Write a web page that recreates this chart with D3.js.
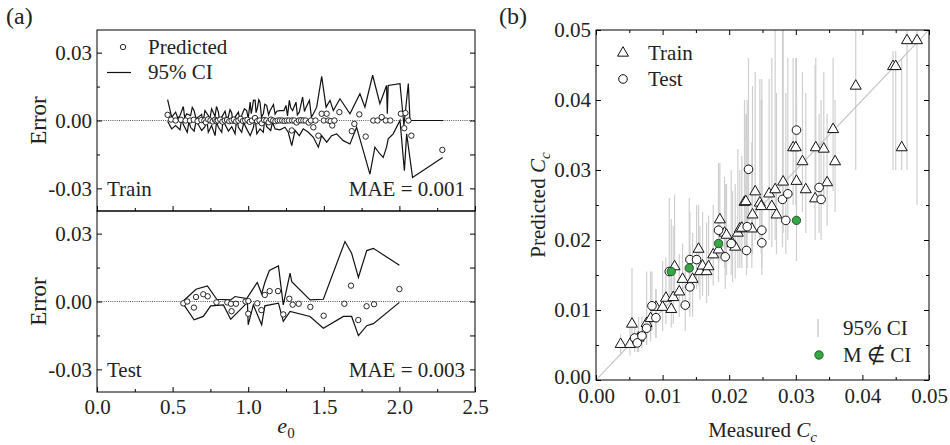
<!DOCTYPE html>
<html>
<head>
<meta charset="utf-8">
<script src="https://cdn.jsdelivr.net/npm/d3@7"></script>
<style>
  body { margin: 0; background: #fff; }
  svg text { font-family: "Liberation Serif", "Times New Roman", serif; fill: #222; }
</style>
</head>
<body>
<div id="chart"></div>
<script>
// ---- data ----
// (a) train: [e0, error]
const trainErr = [[0.467,0.0025],[0.49,0.0004],[0.52,0],[0.555,0.0003],[0.586,0],[0.615,0],[0.64,0.0003],[0.665,-0.0003],
  [0.69,0.0002],[0.71,0],[0.72,-0.0008],[0.735,0.0005],[0.75,0],[0.765,-0.0004],[0.78,0.0003],[0.79,-0.0002],[0.80,0],
  [0.815,0.0004],[0.83,-0.0005],[0.845,0],[0.86,0.0002],[0.875,-0.0003],[0.89,0],[0.905,0.0004],[0.92,-0.0004],[0.935,0],
  [0.95,0.0007],[0.965,-0.0002],[0.98,0],[0.995,0.0003],[1.01,-0.0006],[1.025,0],[1.045,0.0011],[1.06,-0.0003],[1.075,0],
  [1.09,-0.0012],[1.105,0.0002],[1.12,0],[1.135,-0.0008],[1.15,0.0004],[1.165,0],[1.18,-0.0003],[1.195,0],[1.21,0],[1.225,0],
  [1.24,-0.0002],[1.255,0],[1.27,0],[1.288,-0.0044],[1.29,0],[1.305,0],[1.32,-0.0009],[1.335,0],[1.35,0.0001],[1.365,0],
  [1.38,0],[1.40,-0.0009],[1.415,0],[1.431,-0.003],[1.445,0],[1.464,-0.0067],[1.486,0.003],[1.50,0],[1.519,0.003],[1.53,0],
  [1.545,-0.0003],[1.556,-0.0022],[1.57,0],[1.603,0.0037],[1.685,-0.0047],[1.702,-0.0015],[1.735,0.0027],[1.777,-0.0071],
  [1.827,0],[1.855,0],[1.883,0.0015],[1.91,0],[1.94,0],[2.01,0.003],[2.032,-0.0034],[2.04,0.0033],[2.06,0],[2.079,-0.0067],
  [2.284,-0.013]];
const trainCiUpper = [[0.467,0.0092],[0.494,0.0015],[0.52,0.0037],[0.535,0.001],[0.549,0.0022],[0.571,0.0062],[0.58,0.0012],
  [0.593,0.003],[0.619,0.0022],[0.63,0.0058],[0.642,0.0044],[0.655,0.0008],[0.67,0.0015],[0.692,0.0027],[0.70,-0.0012],
  [0.714,0.0044],[0.736,0.0022],[0.745,0.0002],[0.758,0.0052],[0.781,0.0018],[0.79,0.0062],[0.803,0.0037],[0.812,-0.0008],
  [0.825,0.0015],[0.847,0.0041],[0.858,0.0006],[0.869,0.0018],[0.88,0.0048],[0.891,0.0033],[0.90,-0.0015],[0.913,0.0015],
  [0.935,0.0037],[0.945,0.0004],[0.957,0.0022],[0.975,0.0052],[0.99,0.0044],[1.0,0.001],[1.013,0.0081],[1.02,0.003],
  [1.028,0.0059],[1.035,0.009],[1.046,0.0089],[1.052,0.0035],[1.061,0.0056],[1.07,0.0092],[1.078,0.0081],[1.088,0.0015],
  [1.1,0.003],[1.11,0.0072],[1.122,0.0067],[1.135,0.0025],[1.145,0.0044],[1.167,0.0071],[1.178,0.0028],[1.189,0.0041],
  [1.21,0.0044],[1.237,0.0044],[1.25,0.0067],[1.26,0.002],[1.272,0.0089],[1.282,0.0055],[1.294,0.0044],[1.316,0.0081],
  [1.325,0.0025],[1.338,0.0037],[1.36,0.0104],[1.372,0.004],[1.383,0.0059],[1.405,0.0089],[1.418,0.0015],[1.431,0.003],
  [1.453,0.0059],[1.486,0.0195],[1.515,0.0059],[1.541,0.0089],[1.563,0.0044],[1.607,0.0096],[1.673,0.003],[1.739,0.0118],
  [1.772,0.0059],[1.823,0.02],[1.871,0.0074],[1.915,0.0155],[1.92,0.003],[1.926,0.0155],[2.004,0.0163],[2.03,-0.0022],
  [2.059,0.0163],[2.07,0],[2.29,0]];
const trainCiLower = [[0.467,-0.0003],[0.494,-0.0037],[0.52,-0.0022],[0.549,-0.0041],[0.56,0.0008],[0.571,-0.0018],
  [0.597,-0.0052],[0.608,-0.0005],[0.619,-0.003],[0.642,-0.0047],[0.655,-0.0005],[0.67,-0.0018],[0.692,-0.0044],
  [0.714,-0.0027],[0.725,0.0012],[0.736,-0.0052],[0.758,-0.0022],[0.781,-0.0067],[0.79,-0.0008],[0.803,-0.003],
  [0.825,-0.0052],[0.835,0.0008],[0.847,-0.0018],[0.869,-0.0047],[0.891,-0.0027],[0.913,-0.0059],[0.925,0.0012],
  [0.935,-0.003],[0.957,-0.0052],[0.97,-0.001],[0.99,-0.0037],[1.013,-0.0067],[1.035,-0.003],[1.045,0.0015],
  [1.057,-0.0059],[1.078,-0.0037],[1.1,-0.0052],[1.11,0.001],[1.122,-0.0027],[1.149,-0.0044],[1.16,-0.0008],
  [1.178,-0.0037],[1.21,-0.0041],[1.243,-0.003],[1.265,-0.0052],[1.288,-0.0111],[1.31,-0.0044],[1.338,-0.0067],
  [1.364,-0.0037],[1.398,-0.0052],[1.431,-0.0074],[1.464,-0.0118],[1.486,-0.0067],[1.519,-0.0096],[1.552,-0.0067],
  [1.585,-0.0059],[1.629,-0.0089],[1.673,-0.0104],[1.717,-0.003],[1.761,-0.0133],[1.805,-0.0237],[1.838,-0.0118],
  [1.871,-0.0148],[1.893,-0.0163],[1.915,-0.0118],[1.926,-0.0081],[1.959,-0.0059],[2.004,0],[2.033,-0.0222],
  [2.048,-0.0059],[2.087,-0.0252],[2.286,-0.0163]];

// (a) test: [e0, error]
const testErr = [[0.571,-0.0008],[0.597,0],[0.641,-0.0027],[0.655,0.002],[0.703,0.0032],[0.732,0.0023],[0.79,-0.0004],
  [0.862,-0.0004],[0.886,-0.001],[0.89,-0.0043],[0.919,-0.001],[0.983,0],[1.001,0.0002],[1.0,-0.0054],[1.06,-0.0008],
  [1.087,-0.0038],[1.11,0.0029],[1.142,0.0046],[1.197,0.0046],[1.232,-0.0057],[1.272,0.0012],[1.294,-0.0014],
  [1.334,-0.001],[1.411,-0.0024],[1.499,-0.0063],[1.636,-0.001],[1.68,0.007],[1.728,-0.0082],[1.783,-0.0021],
  [1.832,-0.0012],[2.0,0.0055]];
const testCiUpper = [[0.567,0],[0.655,0.0054],[0.73,0.0069],[0.792,0.001],[0.884,0.0007],[0.913,0.0022],[0.99,0.0013],
  [1.06,0.0084],[1.089,0.0034],[1.11,0.0084],[1.14,0.0137],[1.20,0.0157],[1.232,-0.0015],[1.277,0.0125],[1.288,0.0088],
  [1.409,0.0007],[1.497,0.001],[1.64,0.0265],[1.684,0.0213],[1.729,0.0107],[1.784,0.0225],[1.828,0.0235],[2.0,0.016]];
const testCiLower = [[0.567,-0.0007],[0.642,-0.0081],[0.703,-0.0066],[0.752,-0.0019],[0.836,-0.0015],[0.884,-0.0078],
  [0.913,-0.0059],[0.995,-0.0004],[1.0,-0.0103],[1.034,-0.0015],[1.089,-0.0103],[1.11,-0.0019],[1.20,-0.0007],
  [1.232,-0.0088],[1.277,-0.0044],[1.409,-0.0066],[1.497,-0.0118],[1.63,-0.0066],[1.684,-0.0066],[1.729,-0.0151],
  [1.784,-0.0107],[1.828,-0.0098],[2.0,-0.0004]];

// (b) [measured, predicted, CI low, CI high]
const ccTrain = [[0.0037,0.0051,0.0035,0.0065],[0.0051,0.0051,0.0035,0.0075],[0.0054,0.0080,0.0045,0.016],
  [0.0064,0.0060,0.004,0.009],[0.0076,0.0081,0.005,0.0155],[0.0082,0.0088,0.0055,0.0155],[0.0090,0.0104,0.006,0.013],
  [0.0100,0.0104,0.007,0.017],[0.0105,0.0117,0.008,0.0175],[0.0113,0.0101,0.0075,0.017],[0.0116,0.0118,0.008,0.022],
  [0.0118,0.0162,0.012,0.0265],[0.0125,0.0126,0.009,0.018],[0.0130,0.0144,0.0105,0.0195],[0.0145,0.0144,0.009,0.021],
  [0.0154,0.0187,0.0135,0.025],[0.0156,0.0155,0.0115,0.022],[0.0160,0.0163,0.012,0.024],[0.0166,0.0155,0.011,0.0225],
  [0.0169,0.0162,0.012,0.0235],[0.0176,0.0179,0.0135,0.025],[0.0184,0.0186,0.014,0.027],[0.0186,0.0229,0.017,0.031],
  [0.0193,0.0210,0.016,0.029],[0.0196,0.0207,0.015,0.028],[0.0205,0.0195,0.014,0.027],[0.0209,0.0190,0.0145,0.028],
  [0.0213,0.0210,0.016,0.033],[0.0216,0.0216,0.016,0.030],[0.0219,0.0217,0.016,0.032],[0.0223,0.0254,0.019,0.040],
  [0.0225,0.0255,0.019,0.038],[0.0234,0.0216,0.016,0.034],[0.0235,0.0236,0.018,0.042],[0.0239,0.0269,0.020,0.044],
  [0.0246,0.0253,0.019,0.043],[0.0248,0.0248,0.018,0.040],[0.0260,0.0266,0.020,0.043],[0.0264,0.0248,0.019,0.046],
  [0.0269,0.0272,0.020,0.052],[0.0271,0.0236,0.018,0.041],[0.0281,0.0283,0.021,0.052],[0.0296,0.0332,0.025,0.046],
  [0.0300,0.0332,0.025,0.046],[0.0301,0.0284,0.022,0.040],[0.0310,0.0312,0.024,0.044],[0.0315,0.0272,0.021,0.041],
  [0.0329,0.0259,0.020,0.045],[0.0330,0.0332,0.026,0.046],[0.0342,0.0330,0.025,0.044],[0.0347,0.0282,0.022,0.038],
  [0.0356,0.0358,0.027,0.046],[0.0359,0.0312,0.024,0.040],[0.0390,0.0420,0.030,0.055],[0.0446,0.0448,0.030,0.047],
  [0.0450,0.0448,0.030,0.047],[0.0459,0.0332,0.030,0.046],[0.0467,0.0485,0.030,0.055],[0.0482,0.0485,0.025,0.055]];
const ccTest = [[0.0058,0.0060,0.004,0.0085],[0.0062,0.0053,0.004,0.007],[0.0069,0.0063,0.0045,0.009],
  [0.0076,0.0074,0.005,0.0105],[0.0084,0.0106,0.007,0.0155],[0.0090,0.0089,0.006,0.013],[0.0110,0.0155,0.012,0.026],
  [0.0134,0.0107,0.007,0.016],[0.0141,0.0133,0.009,0.019],[0.0141,0.0172,0.013,0.024],[0.0151,0.0172,0.013,0.025],
  [0.0184,0.0214,0.016,0.031],[0.0194,0.0176,0.013,0.028],[0.0203,0.0195,0.015,0.030],[0.0226,0.0185,0.015,0.038],
  [0.0227,0.0219,0.016,0.040],[0.0229,0.0301,0.023,0.046],[0.0249,0.0214,0.016,0.040],[0.0249,0.0196,0.015,0.043],
  [0.0280,0.0258,0.019,0.050],[0.0285,0.0228,0.018,0.041],[0.0288,0.0266,0.020,0.046],[0.0301,0.0357,0.027,0.046],
  [0.0335,0.0275,0.021,0.038],[0.0338,0.0258,0.020,0.040]];
// test points whose measured value lies outside the CI
const ccOut = [[0.0113,0.0155,0.0118,0.023],[0.0140,0.0160,0.0145,0.026],[0.0184,0.0195,0.0188,0.030],
  [0.0301,0.0228,0.017,0.0295]];

const e0Ticks = [0, 0.5, 1, 1.5, 2, 2.5];
const errTicks = [-0.03, 0, 0.03];
const ccTicks = [0, 0.01, 0.02, 0.03, 0.04, 0.05];

// ---- layout ----
const width = 950, height = 445;
const fs = 21;
const green = "#35a845";
const barGrey = "#cfcfcf";

const svg = d3.select("#chart").append("svg")
  .attr("width", width).attr("height", height)
  .attr("viewBox", [0, 0, width, height]);

const x = d3.scaleLinear().domain([0, 2.5]).range([97, 475]);
const yTop = d3.scaleLinear().domain([-0.04, 0.04]).range([211, 30]);
const yBot = d3.scaleLinear().domain([-0.04, 0.04]).range([392, 211]);

function styleAxis(g) {
  g.select(".domain").remove();
  g.attr("font-family", null).attr("font-size", fs);
  g.selectAll("line").attr("stroke", "#000");
}
const minorOf = (vals, step) => vals.slice(0, -1).map(v => v + step / 2);

function errPanel(y, pts, up, lo, name, mae, showX) {
  const g = svg.append("g");
  const [y1, y0] = y.range();

  // zero line
  g.append("line")
    .attr("x1", x.range()[0]).attr("x2", x.range()[1])
    .attr("y1", y(0)).attr("y2", y(0))
    .attr("stroke", "#444").attr("stroke-width", 0.9).attr("stroke-dasharray", "1,1.2");

  const line = d3.line().x(d => x(d[0])).y(d => y(d[1]));
  [up, lo].forEach(arr => {
    g.append("path").datum(arr)
      .attr("fill", "none").attr("stroke", "#111").attr("stroke-width", 1.2)
      .attr("stroke-linejoin", "miter").attr("d", line);
  });

  g.append("g").selectAll("circle").data(pts).join("circle")
    .attr("cx", d => x(d[0])).attr("cy", d => y(d[1])).attr("r", 2.7)
    .attr("fill", "#fff").attr("stroke", "#111").attr("stroke-width", 0.9);

  // ticks
  g.append("g").attr("transform", `translate(0,${y1})`)
    .call(d3.axisBottom(x).tickValues(e0Ticks).tickSize(-5).tickPadding(7)
      .tickFormat(showX ? (d => d.toFixed(1)) : ""))
    .call(styleAxis);
  g.append("g").attr("transform", `translate(0,${y1})`)
    .call(d3.axisBottom(x).tickValues(minorOf(e0Ticks, 0.5)).tickSize(-3).tickFormat(""))
    .call(styleAxis);
  g.append("g").attr("transform", `translate(${x.range()[0]},0)`)
    .call(d3.axisLeft(y).tickValues(errTicks).tickSize(-5).tickPadding(5).tickFormat(d => d.toFixed(2)))
    .call(styleAxis);
  g.append("g").attr("transform", `translate(${x.range()[0]},0)`)
    .call(d3.axisLeft(y).tickValues([-0.015, 0.015]).tickSize(-3).tickFormat(""))
    .call(styleAxis);
  g.append("g").attr("transform", `translate(${x.range()[1]},0)`)
    .call(d3.axisRight(y).tickValues([-0.03, -0.015, 0, 0.015, 0.03]).tickSize(-5).tickFormat(""))
    .call(styleAxis);

  g.append("rect")
    .attr("x", x.range()[0]).attr("y", y0)
    .attr("width", x.range()[1] - x.range()[0]).attr("height", y1 - y0)
    .attr("fill", "none").attr("stroke", "#000").attr("stroke-width", 1);

  g.append("text").attr("x", 107).attr("y", y(-0.03) + 8).attr("font-size", fs).text(name);
  g.append("text").attr("x", 465).attr("y", y(-0.03) + 8).attr("font-size", fs)
    .attr("text-anchor", "end").text(mae);

  g.append("text")
    .attr("transform", `translate(46,${(y0 + y1) / 2}) rotate(-90)`)
    .attr("text-anchor", "middle").attr("font-size", 23).text("Error");
}

errPanel(yTop, trainErr, trainCiUpper, trainCiLower, "Train", "MAE = 0.001", false);
errPanel(yBot, testErr, testCiUpper, testCiLower, "Test", "MAE = 0.003", true);

// legend (a)
svg.append("circle").attr("cx", 123).attr("cy", 47).attr("r", 2.7)
  .attr("fill", "#fff").attr("stroke", "#111").attr("stroke-width", 0.9);
svg.append("text").attr("x", 148).attr("y", 54).attr("font-size", fs).text("Predicted");
svg.append("line").attr("x1", 107).attr("x2", 131).attr("y1", 72.5).attr("y2", 72.5)
  .attr("stroke", "#111").attr("stroke-width", 1.2);
svg.append("text").attr("x", 148).attr("y", 79).attr("font-size", fs).text("95% CI");

// x label (a)
const e0Label = svg.append("text").attr("x", x(1.25)).attr("y", 433)
  .attr("text-anchor", "middle").attr("font-size", 22);
e0Label.append("tspan").attr("font-style", "italic").text("e");
e0Label.append("tspan").attr("font-size", 15).attr("dy", 5).text("0");

svg.append("text").attr("x", 6).attr("y", 24).attr("font-size", 24).text("(a)");
svg.append("text").attr("x", 499).attr("y", 24).attr("font-size", 24).text("(b)");

// ---- panel (b) ----
const cx = d3.scaleLinear().domain([0, 0.05]).range([596, 929]);
const cy = d3.scaleLinear().domain([0, 0.05]).range([380, 30]);
const gb = svg.append("g");

gb.append("clipPath").attr("id", "clipb").append("rect")
  .attr("x", 596).attr("y", 30).attr("width", 333).attr("height", 350);

const plot = gb.append("g").attr("clip-path", "url(#clipb)");
const allPts = ccTrain.concat(ccTest, ccOut);
plot.append("g").selectAll("line").data(allPts).join("line")
  .attr("x1", d => cx(d[0])).attr("x2", d => cx(d[0]))
  .attr("y1", d => cy(d[2])).attr("y2", d => cy(d[3]))
  .attr("stroke", barGrey).attr("stroke-width", 1.2);

plot.append("line")
  .attr("x1", cx(0)).attr("y1", cy(0)).attr("x2", cx(0.05)).attr("y2", cy(0.05))
  .attr("stroke", "#c4c4c4").attr("stroke-width", 1.2);

const tri = d3.symbol(d3.symbolTriangle, 52);
plot.append("g").selectAll("path").data(ccTrain).join("path")
  .attr("transform", d => `translate(${cx(d[0])},${cy(d[1])})`)
  .attr("d", tri).attr("fill", "#fff").attr("stroke", "#111").attr("stroke-width", 1);

plot.append("g").selectAll("circle").data(ccTest).join("circle")
  .attr("cx", d => cx(d[0])).attr("cy", d => cy(d[1])).attr("r", 4.3)
  .attr("fill", "#fff").attr("stroke", "#111").attr("stroke-width", 1);

plot.append("g").selectAll("circle").data(ccOut).join("circle")
  .attr("cx", d => cx(d[0])).attr("cy", d => cy(d[1])).attr("r", 4.2)
  .attr("fill", green).attr("stroke", "#1d3d1d").attr("stroke-width", 0.8);

const ccMinor = minorOf(ccTicks, 0.01);
const fmt2 = d => d.toFixed(2);
gb.append("g").attr("transform", "translate(0,380)")
  .call(d3.axisBottom(cx).tickValues(ccTicks).tickSize(-5).tickPadding(8).tickFormat(fmt2)).call(styleAxis);
gb.append("g").attr("transform", "translate(0,380)")
  .call(d3.axisBottom(cx).tickValues(ccMinor).tickSize(-3).tickFormat("")).call(styleAxis);
gb.append("g").attr("transform", "translate(0,30)")
  .call(d3.axisTop(cx).tickValues(ccTicks).tickSize(-5).tickFormat("")).call(styleAxis);
gb.append("g").attr("transform", "translate(0,30)")
  .call(d3.axisTop(cx).tickValues(ccMinor).tickSize(-3).tickFormat("")).call(styleAxis);
gb.append("g").attr("transform", "translate(596,0)")
  .call(d3.axisLeft(cy).tickValues(ccTicks).tickSize(-5).tickPadding(5).tickFormat(fmt2))
  .call(styleAxis)
  .call(g => g.selectAll(".tick text").filter(d => d === 0).attr("dy", "0.15em"));
gb.append("g").attr("transform", "translate(596,0)")
  .call(d3.axisLeft(cy).tickValues(ccMinor).tickSize(-3).tickFormat("")).call(styleAxis);
gb.append("g").attr("transform", "translate(929,0)")
  .call(d3.axisRight(cy).tickValues(ccTicks).tickSize(-5).tickFormat("")).call(styleAxis);
gb.append("g").attr("transform", "translate(929,0)")
  .call(d3.axisRight(cy).tickValues(ccMinor).tickSize(-3).tickFormat("")).call(styleAxis);

gb.append("rect").attr("x", 596).attr("y", 30).attr("width", 333).attr("height", 350)
  .attr("fill", "none").attr("stroke", "#000");

// legend (b)
gb.append("path").attr("transform", "translate(623,53)").attr("d", tri)
  .attr("fill", "#fff").attr("stroke", "#111");
gb.append("text").attr("x", 648).attr("y", 60).attr("font-size", fs).text("Train");
gb.append("circle").attr("cx", 623).attr("cy", 79).attr("r", 4.3)
  .attr("fill", "#fff").attr("stroke", "#111");
gb.append("text").attr("x", 648).attr("y", 86).attr("font-size", fs).text("Test");
gb.append("line").attr("x1", 818).attr("x2", 818).attr("y1", 319).attr("y2", 337)
  .attr("stroke", barGrey).attr("stroke-width", 1.5);
gb.append("text").attr("x", 843).attr("y", 335).attr("font-size", fs).text("95% CI");
gb.append("circle").attr("cx", 819).attr("cy", 355).attr("r", 4.2)
  .attr("fill", green).attr("stroke", "#1d3d1d").attr("stroke-width", 0.8);
gb.append("text").attr("x", 843).attr("y", 362).attr("font-size", fs).text("M \u2209 CI");

// axis titles (b)
const mLabel = gb.append("text").attr("x", cx(0.025)).attr("y", 437)
  .attr("text-anchor", "middle").attr("font-size", fs);
mLabel.append("tspan").text("Measured ");
mLabel.append("tspan").attr("font-style", "italic").text("C");
mLabel.append("tspan").attr("font-style", "italic").attr("font-size", 15).attr("dy", 5).text("c");

const pLabel = gb.append("text")
  .attr("transform", `translate(545,205) rotate(-90)`)
  .attr("text-anchor", "middle").attr("font-size", fs);
pLabel.append("tspan").text("Predicted ");
pLabel.append("tspan").attr("font-style", "italic").text("C");
pLabel.append("tspan").attr("font-style", "italic").attr("font-size", 15).attr("dy", 5).text("c");
</script>
</body>
</html>
